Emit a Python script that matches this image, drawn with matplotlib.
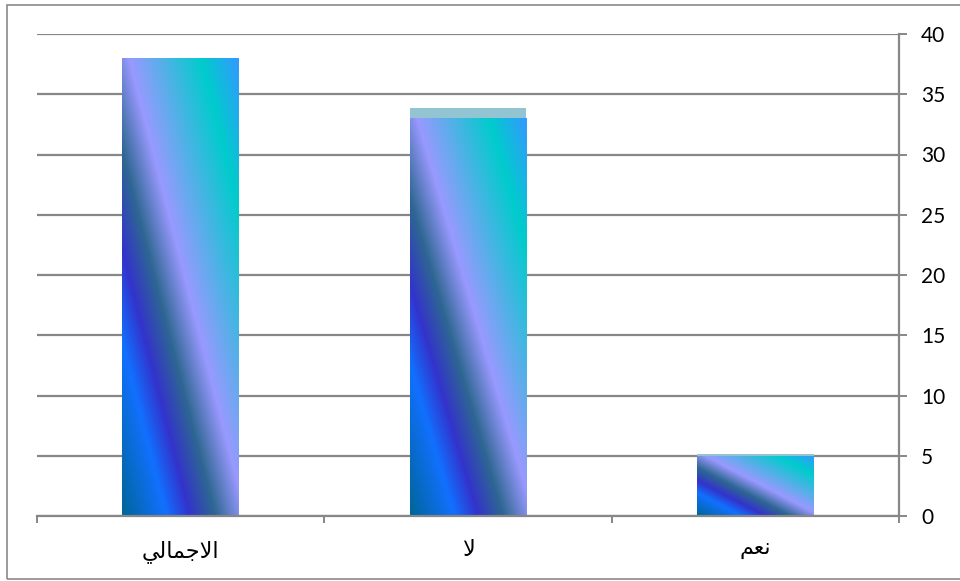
import numpy as np
import matplotlib
matplotlib.use("Agg")
import matplotlib.pyplot as plt
from matplotlib.colors import LinearSegmentedColormap
from matplotlib.patches import Rectangle

# ---- data ----
categories = ['نعم', 'لا', 'الاجمالي']
values = [5, 33, 38]
back_values = [5.15, 33.9, 0]
y_ticks = [0, 5, 10, 15, 20, 25, 30, 35, 40]

# ---- minimal Arabic shaping (matplotlib has no complex text layout) ----
FORMS = {
    'ا': ('\uFE8D', '\uFE8E', None, None),
    'ل': ('\uFEDD', '\uFEDE', '\uFEDF', '\uFEE0'),
    'ج': ('\uFE9D', '\uFE9E', '\uFE9F', '\uFEA0'),
    'م': ('\uFEE1', '\uFEE2', '\uFEE3', '\uFEE4'),
    'ي': ('\uFEF1', '\uFEF2', '\uFEF3', '\uFEF4'),
    'ن': ('\uFEE5', '\uFEE6', '\uFEE7', '\uFEE8'),
    'ع': ('\uFEC9', '\uFECA', '\uFECB', '\uFECC'),
}
LA = ('\uFEFB', '\uFEFC', None, None)


def shape(text):
    toks = []
    i = 0
    while i < len(text):
        if text[i] == 'ل' and i + 1 < len(text) and text[i + 1] == 'ا':
            toks.append(LA)
            i += 2
        else:
            toks.append(FORMS.get(text[i], (text[i], text[i], None, None)))
            i += 1
    out = []
    for k, t in enumerate(toks):
        jp = k > 0 and toks[k - 1][2] is not None
        jn = k + 1 < len(toks) and t[2] is not None
        if jp and jn:
            out.append(t[3])
        elif jp:
            out.append(t[1])
        elif jn:
            out.append(t[2])
        else:
            out.append(t[0])
    return ''.join(out[::-1])


# ---- gradient (Peacock-like) ----
grad = LinearSegmentedColormap.from_list('peacock', [
    (0.00, '#006699'),
    (0.19, '#1170FF'),
    (0.29, '#3333CC'),
    (0.40, '#2E6792'),
    (0.53, '#9999FF'),
    (0.84, '#00CCCC'),
    (1.00, '#3399FF'),
])
N = 300
u = np.linspace(0, 1, N)
U, V = np.meshgrid(u, u)
T = (U + V) / 2.0

fig = plt.figure(figsize=(9.6, 5.81), dpi=100)
ax = fig.add_axes([37 / 960, 1 - 516 / 581, (899 - 37) / 960, (516 - 34) / 581])

x = np.arange(len(categories))
width = 0.405
ax.bar(x, back_values, width=width, color='#93C4D2', zorder=2, linewidth=0)
bars = ax.bar(x, values, width=width, color='none', zorder=3, linewidth=0)
for b in bars:
    x0, w, h = b.get_x(), b.get_width(), b.get_height()
    # x axis is inverted: put image column 0 at the screen-left edge
    im = ax.imshow(T, cmap=grad, vmin=0, vmax=1, origin='lower',
                   extent=(x0 + w, x0, 0, h), aspect='auto', zorder=3,
                   interpolation='bilinear')
    im.set_clip_path(b)

ax.set_xlim(2.5, -0.5)
ax.set_ylim(0, 40)
ax.set_aspect('auto')

gcol = '#878787'
ax.set_yticks(y_ticks)
ax.yaxis.tick_right()
ax.yaxis.grid(True, color=gcol, linewidth=1.6, zorder=1)
ax.set_axisbelow(True)
for s in ['top', 'left']:
    ax.spines[s].set_visible(False)
ax.spines['right'].set_color(gcol)
ax.spines['right'].set_linewidth(1.6)
ax.spines['bottom'].set_color(gcol)
ax.spines['bottom'].set_linewidth(1.6)
ax.spines['bottom'].set_zorder(4)

ax.tick_params(axis='y', which='major', direction='out', length=6,
               width=1.4, color=gcol, pad=10, labelsize=15, labelcolor='black')
for lab in ax.get_yticklabels():
    lab.set_fontfamily(['Lato', 'DejaVu Sans'])

ax.set_xticks(x)
ax.set_xticklabels([shape(c) for c in categories], fontsize=16,
                   fontfamily=['DejaVu Sans'])
ax.set_xticks([-0.5, 0.5, 1.5, 2.5], minor=True)
ax.tick_params(axis='x', which='major', length=0, pad=17)
ax.tick_params(axis='x', which='minor', direction='out', length=5,
               width=1.4, color=gcol)

# chart border
fig.patches.append(Rectangle((7 / 960, 1 - 579 / 581), 1.0, (579 - 5) / 581,
                             transform=fig.transFigure, fill=False,
                             edgecolor='#8a8a8a', linewidth=1.2))

fig.savefig('out.png', dpi=100)
